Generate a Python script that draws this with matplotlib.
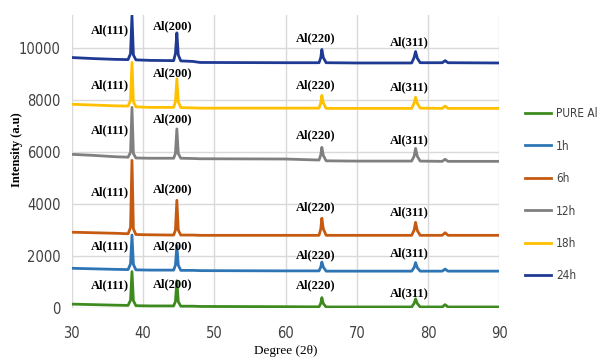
import matplotlib
matplotlib.use("Agg")
import matplotlib.pyplot as plt
from matplotlib import font_manager
from matplotlib.font_manager import FontProperties

# ---------------- data ----------------
two_theta = [30, 33, 36, 37.9, 38.25, 38.45, 38.65, 39.0, 41, 44.3, 44.55, 44.75, 44.95, 45.3,
             47, 48, 60, 64.7, 64.95, 65.1, 65.3, 65.7, 70, 77.7, 78.05, 78.25, 78.5, 78.9,
             82.0, 82.4, 82.8, 90]

pure_al = [150, 130, 110, 100, 300, 1400, 280, 90, 80, 80, 250, 1050, 240, 70,
           70, 60, 50, 45, 180, 400, 170, 40, 40, 40, 180, 350, 170, 40,
           40, 130, 40, 40]
h1 = [1530, 1510, 1490, 1480, 1700, 2810, 1680, 1470, 1460, 1460, 1650, 2400, 1650, 1450,
      1450, 1440, 1430, 1430, 1580, 1770, 1580, 1420, 1420, 1420, 1560, 1750, 1550, 1420,
      1420, 1500, 1420, 1420]
h6 = [2920, 2900, 2880, 2860, 3100, 5690, 3050, 2830, 2820, 2810, 3000, 4150, 3000, 2810,
      2810, 2800, 2800, 2800, 3050, 3460, 3050, 2800, 2800, 2800, 3000, 3300, 2980, 2800,
      2800, 2900, 2800, 2800]
h12 = [5920, 5880, 5830, 5810, 6000, 7730, 5950, 5780, 5770, 5770, 5950, 6900, 5950, 5770,
       5760, 5750, 5740, 5700, 5900, 6190, 5880, 5670, 5660, 5660, 5850, 6150, 5840, 5660,
       5650, 5730, 5650, 5650]
h18 = [7850, 7820, 7790, 7780, 8000, 9460, 7950, 7750, 7730, 7730, 7950, 8830, 7950, 7720,
       7710, 7700, 7700, 7700, 7900, 8190, 7900, 7690, 7690, 7690, 7900, 8120, 7880, 7700,
       7690, 7780, 7690, 7690]
h24 = [9650, 9610, 9580, 9570, 9800, 11270, 9750, 9560, 9540, 9530, 9800, 10600, 9750, 9520,
       9500, 9460, 9450, 9450, 9650, 9960, 9650, 9450, 9440, 9440, 9650, 9880, 9620, 9450,
       9450, 9530, 9450, 9440]

series_labels = ["PURE Al", "1h", "6h", "12h", "18h", "24h"]
series_values = [pure_al, h1, h6, h12, h18, h24]
series_colors = ["#3d8b1f", "#2e75b6", "#c55a11", "#808080", "#ffc000", "#1f3a93"]

peak_labels = ["Al(111)", "Al(200)", "Al(220)", "Al(311)"]
peak_label_x = [35.3, 44.2, 64.2, 77.4]
# label y positions per series (PURE, 1h, 6h, 12h, 18h, 24h)
peak_label_y = [
    [880, 920, 880, 580],
    [2380, 2380, 2040, 2110],
    [4460, 4580, 3880, 3690],
    [6850, 7270, 6650, 6460],
    [8580, 9040, 8580, 8500],
    [10690, 10850, 10380, 10230],
]

x_ticks = [30, 40, 50, 60, 70, 80, 90]
y_ticks = [0, 2000, 4000, 6000, 8000, 10000]

# ---------------- fonts ----------------
ttf = font_manager.fontManager.ttflist
narrow_entry = None
pref = ["Liberation Sans Narrow", "Noto Sans", "Open Sans", "Roboto", "DejaVu Sans", "Lato", "Inter"]
for stretch in ["condensed", "semi-condensed", "extra-condensed"]:
    for fam in pref:
        for f in ttf:
            st = str(f.stretch).lower()
            if (f.name == fam and f.style == "normal" and f.weight in (400, "normal", "regular")
                    and (st == stretch or (fam == "Liberation Sans Narrow"))):
                narrow_entry = f
                break
        if narrow_entry:
            break
    if narrow_entry:
        break
if narrow_entry is None:
    for f in ttf:
        low = f.fname.lower()
        if ("condensed" in low or "narrow" in low) and "bold" not in low and "italic" not in low \
                and "light" not in low and "thin" not in low and "black" not in low \
                and "medium" not in low and "mono" not in low and "serif" not in low:
            narrow_entry = f
            break


def nprop(size):
    if narrow_entry is not None:
        return FontProperties(fname=narrow_entry.fname, size=size)
    return FontProperties(family="DejaVu Sans", size=size)


names = {f.name for f in ttf}
serif = "Liberation Serif" if "Liberation Serif" in names else "DejaVu Serif"

# ---------------- figure ----------------
fig = plt.figure(figsize=(6.03, 3.63), dpi=100)
ax = fig.add_axes([0.119, 0.1515, 0.709, 0.808])

lines = []
for lab, vals, col in zip(series_labels, series_values, series_colors):
    ln, = ax.plot(two_theta, vals, color=col, lw=2.0, label=lab, solid_joinstyle="round")
    lines.append(ln)

for ys in peak_label_y:
    for lab, px, py in zip(peak_labels, peak_label_x, ys):
        ax.text(px, py, lab, ha="center", va="center", fontsize=9, fontweight="bold",
                family=serif, color="black")

ax.set_xlim(30, 90)
ax.set_ylim(0, 11300)
ax.set_xticks(x_ticks)
ax.set_yticks(y_ticks)
ax.grid(True, color="#d9d9d9", lw=1.0)
ax.set_axisbelow(True)
for s in ax.spines.values():
    s.set_visible(False)
ax.tick_params(axis="x", length=0, labelcolor="#404040", pad=13)
ax.tick_params(axis="y", length=0, labelcolor="#404040", pad=8)
for t in ax.get_xticklabels() + ax.get_yticklabels():
    t.set_fontproperties(nprop(10.5))

ax.set_ylabel("Intensity (a.u)", family=serif, fontweight="bold", fontsize=9)
ax.yaxis.set_label_coords(-0.115, 0.54)
ax.set_xlabel("Degree (2θ)", family=serif, fontsize=9.5)
ax.xaxis.set_label_coords(0.5, -0.125)

leg = fig.legend(handles=lines, loc="upper left", bbox_to_anchor=(0.871, 0.705),
                 frameon=False, handlelength=2.2, labelspacing=1.65,
                 handletextpad=0.4, prop=nprop(8.5), borderaxespad=0, borderpad=0)
for t in leg.get_texts():
    t.set_color("#404040")

fig.savefig("out.png", dpi=100)
